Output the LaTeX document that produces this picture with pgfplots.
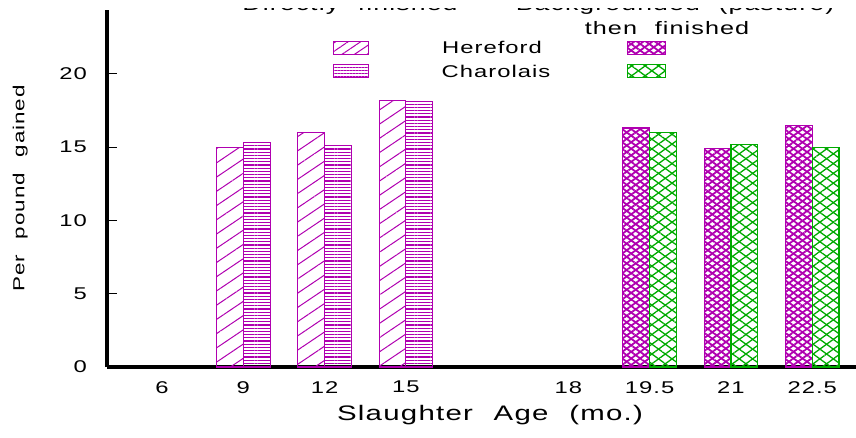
\documentclass[border=0pt]{standalone}
\usepackage{pgfplots}
\pgfplotsset{compat=1.18}
\usetikzlibrary{patterns.meta}
\usepackage{fontspec}
\setmainfont{Liberation Sans}[FakeStretch=1.4, LetterSpace=6, WordSpace=2.2]
\definecolor{mag}{RGB}{176,0,176}
\definecolor{grn}{RGB}{0,170,0}
\begin{document}
\begin{tikzpicture}
\begin{axis}[
  at={(107pt,70pt)}, anchor=south west,
  scale only axis, width=754pt, height=357pt,
  xmin=-0.677, xmax=8.6, ymin=0, ymax=24.35,
  axis x line=bottom, axis y line=left,
  axis line style={-, line width=3.5pt, black},
  xtick={0,1,2,3,5,6,7,8},
  xticklabels={6,9,12,15,18,19.5,21,22.5},
  ytick={0,5,10,15,20},
  xtick style={draw=none},
  ytick style={line width=1pt, black},
  major tick length=10pt, tick align=inside,
  /pgf/number format/assume math mode=true,
  ticklabel style={font=\fontsize{17}{19}\selectfont, inner sep=0pt},
  xticklabel style={yshift=-4pt},
  yticklabel style={xshift=-20pt},
  xlabel={Slaughter Age (mo.)},
  ylabel={Per pound gained},
  xlabel style={font=\fontsize{21}{23}\selectfont, at={(axis description cs:0.508,-0.135)}, anchor=center},
  ylabel style={font=\fontsize{16}{18}\selectfont, at={(axis description cs:-0.115,0.5)}, anchor=center, rotate=0},
  ybar, bar width=26.8pt,
]
% Directly finished, Hereford
\addplot[bar shift=-13.4pt, draw=mag, line width=1.1pt,
  pattern={Lines[angle=34, distance=11.8pt, line width=1pt]}, pattern color=mag]
  coordinates {(1,15.0) (2,16.0) (3,18.2)};
% Directly finished, Charolais
\addplot[bar shift=13.4pt, draw=mag, line width=1.1pt,
  pattern={Lines[angle=0, distance=3.2pt, line width=1.1pt]}, pattern color=mag]
  coordinates {(1,15.3) (2,15.1) (3,18.1)};
% Backgrounded, Hereford
\addplot[bar shift=-13.4pt, draw=mag, line width=1.1pt,
  pattern={Lines[angle=36, distance=5.3pt, line width=1.8pt]}, pattern color=mag]
  coordinates {(6,16.3) (7,14.9) (8,16.45)};
\addplot[forget plot, bar shift=-13.4pt, draw=mag, line width=1.1pt,
  pattern={Lines[angle=-36, distance=5.3pt, line width=1.8pt]}, pattern color=mag]
  coordinates {(6,16.3) (7,14.9) (8,16.45)};
% Backgrounded, Charolais
\addplot[bar shift=13.4pt, draw=grn, line width=1.1pt,
  pattern={Lines[angle=36, distance=7.9pt, line width=1.3pt]}, pattern color=grn]
  coordinates {(6,16.0) (7,15.15) (8,15.0)};
\addplot[forget plot, bar shift=13.4pt, draw=grn, line width=1.1pt,
  pattern={Lines[angle=-36, distance=7.9pt, line width=1.3pt]}, pattern color=grn]
  coordinates {(6,16.0) (7,15.15) (8,15.0)};
\end{axis}
% legend headers (the reference shows only their lowest edge)
\begin{scope}
\clip (0pt,420pt) rectangle (856pt,428pt);
\node[anchor=base, font=\fontsize{19}{21}\selectfont, inner sep=0pt] at (350pt,426pt) {Directly finished};
\node[anchor=base, font=\fontsize{19}{21}\selectfont, inner sep=0pt] at (675pt,426pt) {Backgrounded (pasture)};
\end{scope}
\node[anchor=base, font=\fontsize{18}{20}\selectfont, inner sep=0pt] at (667pt,402pt) {then finished};
% legend swatches
\draw[draw=mag, line width=1pt, pattern={Lines[angle=34, distance=7pt, line width=1pt]}, pattern color=mag] (333pt,382pt) rectangle (368pt,395pt);
\draw[draw=mag, line width=1pt, pattern={Lines[angle=0, distance=3pt, line width=1pt]}, pattern color=mag] (333pt,359pt) rectangle (368pt,372pt);
\fill[pattern={Lines[angle=36, distance=5.3pt, line width=1.8pt]}, pattern color=mag] (627pt,382pt) rectangle (665pt,395pt);
\draw[draw=mag, line width=1pt, pattern={Lines[angle=-36, distance=5.3pt, line width=1.8pt]}, pattern color=mag] (627pt,382pt) rectangle (665pt,395pt);
\fill[pattern={Lines[angle=36, distance=7.9pt, line width=1.3pt]}, pattern color=grn] (627pt,359pt) rectangle (665pt,372pt);
\draw[draw=grn, line width=1pt, pattern={Lines[angle=-36, distance=7.9pt, line width=1.3pt]}, pattern color=grn] (627pt,359pt) rectangle (665pt,372pt);
\node[anchor=center, font=\fontsize{17}{19}\selectfont, inner sep=0pt] at (492pt,390pt) {Hereford};
\node[anchor=center, font=\fontsize{17}{19}\selectfont, inner sep=0pt] at (496pt,366pt) {Charolais};
\pgfresetboundingbox
\useasboundingbox (0,0) rectangle (856pt,437pt);
\end{tikzpicture}
\end{document}
